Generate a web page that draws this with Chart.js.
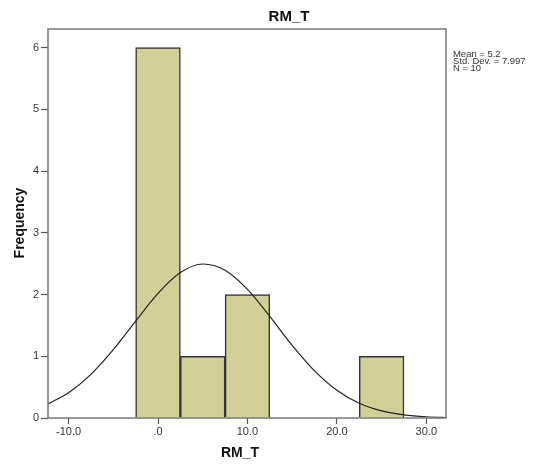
<!DOCTYPE html>
<html>
<head>
<meta charset="utf-8">
<script src="https://cdn.jsdelivr.net/npm/chart.js@4/dist/chart.umd.min.js"></script>
<style>
  html, body { margin: 0; padding: 0; background: #fff; }
  #wrap { width: 540px; height: 467px; }
</style>
</head>
<body>
<div id="wrap"><canvas id="hist"></canvas></div>
<script>
// Histogram bins (centre of each 5-wide bin) and counts
const binCentres = [0, 5, 10, 25];
const binCounts = [6, 1, 2, 1];

// Normal curve
const curveX = [-12.5, -10, -7.5, -5, -2.5, 0, 2.5, 5, 7.5, 10, 12.5, 15, 17.5, 20, 22.5, 25, 27.5, 30, 32.5];
const curveY = [0.215, 0.41, 0.707, 1.106, 1.569, 2.019, 2.356, 2.494, 2.393, 2.083, 1.645, 1.177, 0.764, 0.45, 0.24, 0.116, 0.051, 0.02, 0.007];

const xTicks = [-10, 0, 10, 20, 30];
const yTicks = [0, 1, 2, 3, 4, 5, 6];
const statsLines = ['Mean = 5.2', 'Std. Dev. = 7.997', 'N = 10'];

const textColor = '#333333';
const frameColor = '#777777';

// Frame, titles and the stats box
const decorations = {
  id: 'decorations',
  afterDraw(c) {
    const { ctx, chartArea: a } = c;
    ctx.save();
    ctx.strokeStyle = frameColor;
    ctx.lineWidth = 1.5;
    ctx.strokeRect(a.left, a.top, a.right - a.left, a.bottom - a.top);

    ctx.fillStyle = '#111';
    ctx.textAlign = 'center';
    ctx.textBaseline = 'middle';
    ctx.font = 'bold 15px "Liberation Sans", Arial, sans-serif';
    ctx.fillText('RM_T', 289, 17);

    ctx.font = 'bold 14px "Liberation Sans", Arial, sans-serif';
    ctx.fillText('RM_T', 240, 453);

    ctx.save();
    ctx.translate(20, 223);
    ctx.rotate(-Math.PI / 2);
    ctx.fillText('Frequency', 0, 0);
    ctx.restore();

    // Stats text, slightly stretched like the original
    ctx.fillStyle = textColor;
    ctx.textAlign = 'left';
    ctx.font = '9px "Liberation Sans", Arial, sans-serif';
    statsLines.forEach((line, i) => {
      ctx.save();
      ctx.translate(453, 55 + i * 7);
      ctx.scale(1.05, 1);
      ctx.fillText(line, 0, 0);
      ctx.restore();
    });
    ctx.restore();
  },
};

new Chart(document.getElementById('hist'), {
  type: 'bar',
  data: {
    datasets: [
      {
        type: 'line',
        label: 'Normal',
        data: curveX.map((x, i) => ({ x, y: curveY[i] })),
        borderColor: '#222222',
        borderWidth: 1.2,
        pointRadius: 0,
        cubicInterpolationMode: 'monotone',
        fill: false,
        order: 0,
      },
      {
        type: 'bar',
        label: 'RM_T',
        data: binCentres.map((x, i) => ({ x, y: binCounts[i] })),
        backgroundColor: '#d3cf98',
        borderColor: '#333333',
        borderWidth: 1.5,
        barPercentage: 1,
        categoryPercentage: 1,
        order: 1,
      },
    ],
  },
  options: {
    responsive: true,
    maintainAspectRatio: false,
    animation: false,
    layout: {
      padding: { top: 29, right: 94, left: 0, bottom: 0 },
    },
    scales: {
      x: {
        type: 'linear',
        min: -12.3,
        max: 32.2,
        offset: false,
        afterBuildTicks: (s) => { s.ticks = xTicks.map(v => ({ value: v })); },
        afterFit: (s) => { s.height = 49; },
        border: { display: false },
        grid: {
          offset: false,
          drawOnChartArea: false,
          drawTicks: true,
          tickLength: 6,
          tickColor: '#555',
          tickWidth: 1.2,
        },
        ticks: {
          color: textColor,
          padding: 1,
          maxRotation: 0,
          autoSkip: false,
          font: { family: '"Liberation Sans", Arial, sans-serif', size: 11 },
          callback: (v) => (v === 0 ? '.0' : v.toFixed(1)),
        },
      },
      y: {
        min: 0,
        max: 6.3,
        afterBuildTicks: (s) => { s.ticks = yTicks.map(v => ({ value: v })); },
        afterFit: (s) => { s.width = 48; },
        border: { display: false },
        grid: {
          drawOnChartArea: false,
          drawTicks: true,
          tickLength: 7,
          tickColor: '#555',
          tickWidth: 1.2,
        },
        ticks: {
          color: textColor,
          padding: 2,
          font: { family: '"Liberation Sans", Arial, sans-serif', size: 11 },
        },
      },
    },
    plugins: {
      legend: { display: false },
      tooltip: { enabled: false },
    },
  },
  plugins: [decorations],
});
</script>
</body>
</html>
